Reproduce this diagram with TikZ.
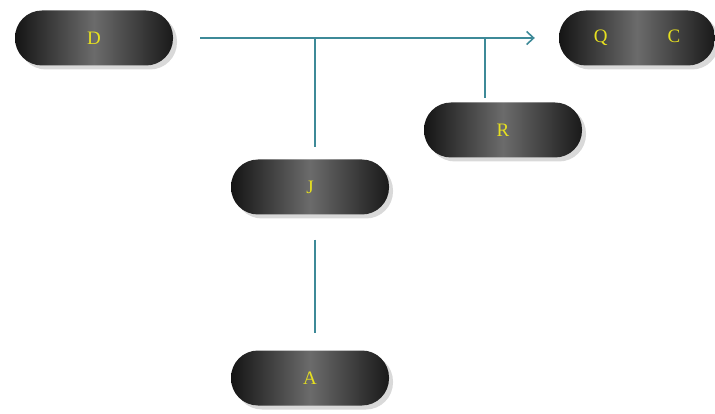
\documentclass[tikz,border=0pt]{standalone}
\usepackage{fontspec}
\setmainfont{Liberation Serif}
\usetikzlibrary{shadows,arrows.meta}
\definecolor{linec}{HTML}{3E8A98}
\definecolor{txtc}{HTML}{E6E020}
\tikzset{
  pill/.style={rectangle, rounded corners=27pt, minimum width=158pt, minimum height=55pt,
    inner sep=0pt, left color=black!92, right color=black!90, middle color=black!58,
    drop shadow={opacity=0.3, shadow xshift=4pt, shadow yshift=-4pt},
    text=txtc, font=\fontsize{19}{22}\selectfont},
  conn/.style={draw=linec, line width=1.6pt},
}
\begin{document}
\begin{tikzpicture}[x=1pt,y=-1pt]
\useasboundingbox (0,0) rectangle (715,414);
\node[pill] (D) at (94,38) {D};
\node[pill, minimum width=156pt] (QC) at (637,38) {Q\hspace{60pt}C};
\node[pill] (R) at (503,130) {R};
\node[pill] (J) at (310,187) {J};
\node[pill] (A) at (310,378) {A};
\coordinate (s) at (200,38);
\coordinate (j1) at (315,38);
\coordinate (j2) at (485,38);
\draw[conn, -{Straight Barb[length=7pt,width=13pt]}, shorten >=24pt] (s) -- (QC.west);
\draw[conn, shorten >=12pt] (j1) -- (j1 |- J.north);
\draw[conn, shorten >=4pt] (j2) -- (j2 |- R.north);
\draw[conn, shorten <=25pt, shorten >=17pt] (J.south -| j1) -- (A.north -| j1);
\end{tikzpicture}
\end{document}
